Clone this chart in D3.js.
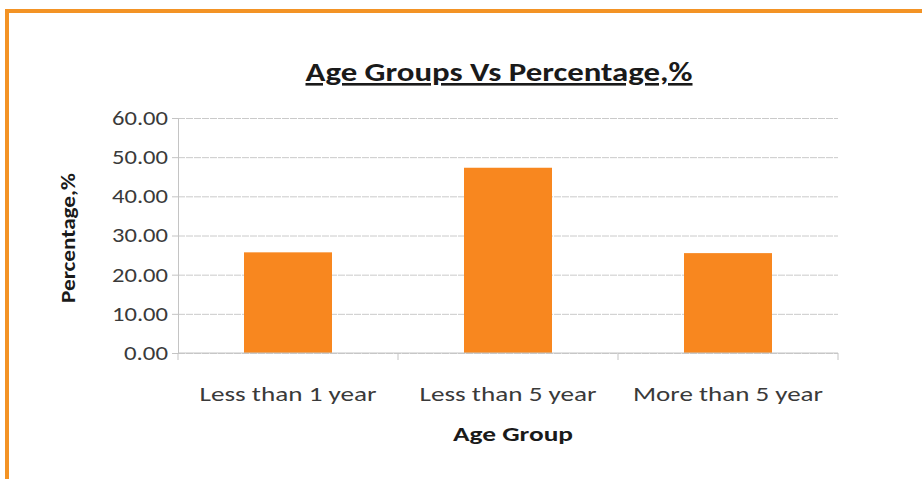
<!DOCTYPE html>
<html>
<head>
<meta charset="utf-8">
<script src="https://cdn.jsdelivr.net/npm/d3@7"></script>
<style>
  body { margin: 0; background: #fff; }
  svg text { font-family: Carlito, Calibri, Lato, sans-serif; }
  .grid line { stroke: #cacaca; stroke-width: 1; stroke-dasharray: 7,1; }
  .grid path { display: none; }
</style>
</head>
<body>
<div id="chart"></div>
<script>
var categories = ["Less than 1 year", "Less than 5 year", "More than 5 year"];
var values = [25.7, 47.3, 25.5];
var yTicks = [0, 10, 20, 30, 40, 50, 60];

var w = 922, h = 479;
var mLeft = 178, mRight = 838, mTop = 118, mBottom = 353;

var svg = d3.select("#chart").append("svg")
    .attr("width", w)
    .attr("height", h);

// orange frame (only left and top edges show in the scan)
svg.append("rect")
    .attr("x", 7).attr("y", 11)
    .attr("width", w + 20).attr("height", h + 20)
    .attr("fill", "none")
    .attr("stroke", "#f39325")
    .attr("stroke-width", 4);

var xScale = d3.scaleBand()
    .domain(categories)
    .range([mLeft, mRight])
    .paddingInner(0.6)
    .paddingOuter(0.3);

var xAxisScale = d3.scaleBand()
    .domain(categories)
    .range([mLeft, mRight]);

var yScale = d3.scaleLinear()
    .domain([0, 60])
    .range([mBottom, mTop]);

// gridlines
svg.append("g")
    .attr("class", "grid")
    .attr("transform", "translate(" + mLeft + ",0)")
    .call(d3.axisLeft(yScale)
        .tickValues(yTicks)
        .tickSize(-(mRight - mLeft))
        .tickFormat(""));

// y axis
var yAxis = svg.append("g")
    .attr("transform", "translate(" + mLeft + ",0)")
    .call(d3.axisLeft(yScale)
        .tickValues(yTicks)
        .tickSize(6)
        .tickPadding(4)
        .tickFormat(d3.format(".2f")));
yAxis.select(".domain").attr("stroke", "#c4c4c4");
yAxis.selectAll(".tick line").attr("stroke", "#c4c4c4");
yAxis.selectAll("text")
    .attr("fill", "#3a3a3a")
    .style("font-size", "20px")
    .attr("textLength", function(d) { return d >= 10 ? 56 : 44; })
    .attr("lengthAdjust", "spacingAndGlyphs");

// bars
svg.selectAll("rect.bar")
    .data(values)
    .enter()
    .append("rect")
    .attr("class", "bar")
    .attr("x", function(d, i) { return xScale(categories[i]); })
    .attr("y", function(d) { return yScale(d); })
    .attr("width", xScale.bandwidth())
    .attr("height", function(d) { return mBottom - yScale(d); })
    .attr("fill", "#f8871f");

// x axis with ticks on band boundaries
var xAxis = svg.append("g")
    .attr("transform", "translate(0," + mBottom + ")");
xAxis.append("line")
    .attr("x1", mLeft).attr("x2", mRight)
    .attr("stroke", "#c4c4c4");
xAxis.selectAll("line.tk")
    .data(d3.range(categories.length + 1))
    .enter()
    .append("line")
    .attr("class", "tk")
    .attr("x1", function(i) { return mLeft + i * xAxisScale.step(); })
    .attr("x2", function(i) { return mLeft + i * xAxisScale.step(); })
    .attr("y1", 0).attr("y2", 7)
    .attr("stroke", "#c4c4c4");
xAxis.selectAll("text")
    .data(categories)
    .enter()
    .append("text")
    .attr("x", function(d) { return xAxisScale(d) + xAxisScale.bandwidth() / 2; })
    .attr("y", 48)
    .attr("text-anchor", "middle")
    .attr("fill", "#3a3a3a")
    .style("font-size", "20px")
    .attr("textLength", function(d, i) { return i === 2 ? 190 : 177; })
    .attr("lengthAdjust", "spacingAndGlyphs")
    .text(function(d) { return d; });

// title
svg.append("text")
    .attr("x", 499).attr("y", 81)
    .attr("text-anchor", "middle")
    .attr("fill", "#1a1a1a")
    .style("font-size", "26px")
    .style("font-weight", "bold")
    .style("text-decoration", "underline")
    .attr("textLength", 387)
    .attr("lengthAdjust", "spacingAndGlyphs")
    .text("Age Groups Vs Percentage,%");

// axis titles
svg.append("text")
    .attr("x", 513).attr("y", 441)
    .attr("text-anchor", "middle")
    .attr("fill", "#1a1a1a")
    .style("font-size", "21px")
    .style("font-weight", "bold")
    .attr("textLength", 120)
    .attr("lengthAdjust", "spacingAndGlyphs")
    .text("Age Group");

svg.append("text")
    .attr("transform", "translate(75,238) rotate(-90)")
    .attr("text-anchor", "middle")
    .attr("fill", "#1a1a1a")
    .style("font-size", "21px")
    .style("font-weight", "bold")
    .attr("textLength", 130)
    .attr("lengthAdjust", "spacingAndGlyphs")
    .text("Percentage,%");
</script>
</body>
</html>
